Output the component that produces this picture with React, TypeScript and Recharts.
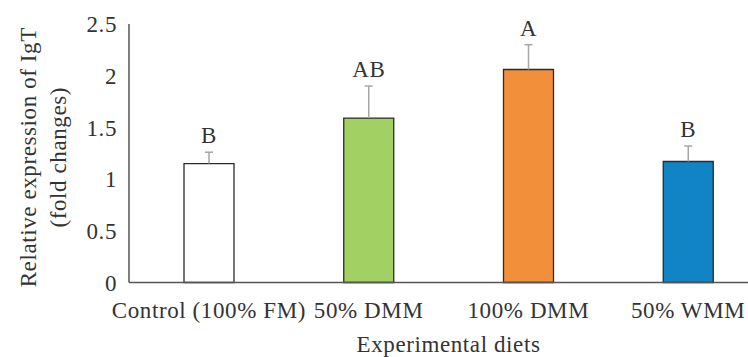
import React from "react";
import { BarChart, Bar, XAxis, YAxis, Cell, LabelList } from "recharts";

const categories = ["Control (100% FM)", "50% DMM", "100% DMM", "50% WMM"];
const means = [1.15, 1.59, 2.06, 1.17];
const errors = [0.11, 0.31, 0.24, 0.15];
const letters = ["B", "AB", "A", "B"];
const barColors = ["#ffffff", "#a2d063", "#f18f3b", "#1184c6"];
const yTicks = [0, 0.5, 1, 1.5, 2, 2.5];

const data = categories.map((name, i) => ({
  name,
  value: means[i],
  sig: letters[i],
}));

const FONT = "'Liberation Serif', 'Times New Roman', serif";
const INK = "#333333";
const textStyle = { fill: INK, fontSize: 23, fontFamily: FONT, letterSpacing: 0.6 };

// upper error whisker + significance letter, scaled from the bar's own px/unit
const SigLabel = (props: any) => {
  const { x, y, width, height, value, index } = props;
  const pxPerUnit = height / means[index];
  const cx = x + width / 2;
  const top = y - errors[index] * pxPerUnit;
  return (
    <g>
      <line x1={cx} y1={y} x2={cx} y2={top} stroke="#a6a6a6" strokeWidth={1.5} />
      <line x1={cx - 4} y1={top} x2={cx + 4} y2={top} stroke="#a6a6a6" strokeWidth={1.5} />
      <text x={cx} y={top - 9} textAnchor="middle" {...textStyle}>
        {value}
      </text>
    </g>
  );
};

const YLabel = ({ viewBox }: any) => {
  const cy = viewBox.y + viewBox.height / 2 + 4;
  return (
    <g>
      <text
        x={36}
        y={cy}
        transform={`rotate(-90, 36, ${cy})`}
        textAnchor="middle"
        {...textStyle}
      >
        Relative expression of IgT
      </text>
      <text
        x={66}
        y={cy}
        transform={`rotate(-90, 66, ${cy})`}
        textAnchor="middle"
        {...textStyle}
      >
        (fold changes)
      </text>
    </g>
  );
};

export default function App() {
  return (
    <div
      style={{
        position: "absolute",
        left: 0,
        top: 0,
        width: 748,
        height: 357,
        overflow: "hidden",
        background: "#fff",
      }}
    >
      <BarChart
        width={800}
        height={357}
        data={data}
        margin={{ top: 24, right: 32, left: 0, bottom: 0 }}
      >
        <XAxis
          dataKey="name"
          height={74.5}
          interval={0}
          axisLine={{ stroke: "#555", strokeWidth: 1.5 }}
          tickLine={false}
          tickSize={6}
          tickMargin={13}
          tick={textStyle}
          label={{
            value: "Experimental diets",
            position: "insideBottom",
            offset: 5,
            ...textStyle,
          }}
        />
        <YAxis
          width={129}
          domain={[0, 2.5]}
          ticks={yTicks}
          axisLine={{ stroke: "#555", strokeWidth: 1.5 }}
          tickLine={false}
          tickSize={6}
          tickMargin={6}
          tick={textStyle}
          label={<YLabel />}
        />
        <Bar
          dataKey="value"
          barSize={50}
          stroke="#2b2b2b"
          strokeWidth={1.3}
          isAnimationActive={false}
        >
          {data.map((_, i) => (
            <Cell key={i} fill={barColors[i]} />
          ))}
          <LabelList dataKey="sig" content={<SigLabel />} />
        </Bar>
      </BarChart>
    </div>
  );
}
